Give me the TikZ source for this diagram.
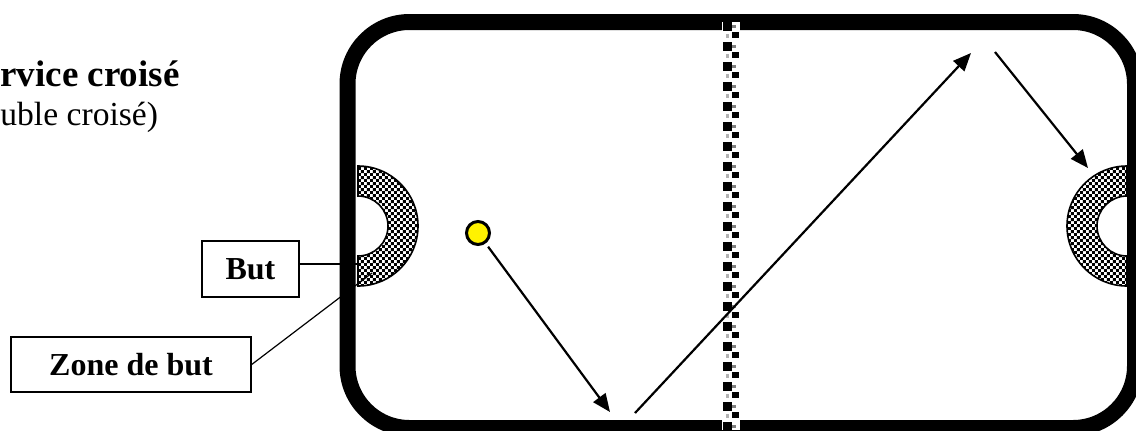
\documentclass[tikz,border=0pt]{standalone}
\usepackage{fontspec}
\setmainfont{Liberation Serif}
\usepackage{tikz}
\usetikzlibrary{arrows.meta, patterns, positioning}

% small black and white checks for the goal zones
\pgfdeclarepatternformonly{goalcheck}{\pgfpointorigin}{\pgfqpoint{3.2pt}{3.2pt}}{\pgfqpoint{3.2pt}{3.2pt}}{%
  \pgfpathrectangle{\pgfpointorigin}{\pgfqpoint{1.6pt}{1.6pt}}%
  \pgfpathrectangle{\pgfqpoint{1.6pt}{1.6pt}}{\pgfqpoint{1.6pt}{1.6pt}}%
  \pgfusepath{fill}}

\tikzset{
  labelbox/.style={draw, line width=0.7pt, fill=white, inner sep=0pt,
    font=\fontsize{16}{18}\selectfont\bfseries},
  shot/.style={line width=1.1pt, -{Triangle[length=9pt, width=7.5pt]}},
  goalzone/.style={draw, line width=0.8pt, pattern=goalcheck},
  ball/.style={circle, draw, fill=yellow, line width=1.5pt, minimum size=11.5pt, inner sep=0pt}
}

\begin{document}
\begin{tikzpicture}[x=0.5pt, y=-0.5pt]
    % picture frame, in pixels of the original
    \useasboundingbox (0,0) rectangle (1136,430);
    \clip (0,0) rectangle (1136,430);

    % Title (what is left of it at the left edge)
    \node[anchor=base west, inner sep=0pt, font=\fontsize{18.5}{20}\selectfont\bfseries] (title) at (0,86) {rvice croisé};
    \node[anchor=base west, inner sep=0pt, font=\fontsize{16.8}{20}\selectfont] (subtitle) at (0,125) {uble croisé)};

    % Rink
    \draw[line width=8pt, rounded corners=31pt] (347.5,22) rectangle (1135,428);

    % Net in the middle
    \fill[white] (722,22) rectangle (740,430);
    \foreach \y in {22,42,...,422} {
        \fill[black] (723,\y) rectangle (732,\y+9);
        \fill[black] (732,\y+10) rectangle (739,\y+16);
        \fill[gray] (732,\y+3) rectangle (736,\y+6);
        \fill[gray!60] (726,\y+12) rectangle (729,\y+16);
    }

    % Goal zones
    \def\rOut{60}
    \def\rIn{30}
    \draw[goalzone] (358,166) arc[start angle=-90, end angle=90, radius=\rOut]
        -- (358,256) arc[start angle=90, end angle=-90, radius=\rIn] -- cycle;
    \draw[goalzone] (1127,166) arc[start angle=270, end angle=90, radius=\rOut]
        -- (1127,256) arc[start angle=90, end angle=270, radius=\rIn] -- cycle;

    % Ball and its path
    \node[ball] (ball) at (478,233) {};
    \coordinate (b1) at (610,412);
    \coordinate (b2) at (635,413);
    \coordinate (b3) at (971,53);
    \coordinate (b4) at (995,52);
    \coordinate (b5) at (1088,168);
    \draw[shot, shorten <=2pt] (ball) -- (b1);
    \draw[shot] (b2) -- (b3);
    \draw[shot] (b4) -- (b5);

    % Labels
    \node[labelbox, minimum width=48.5pt, minimum height=28pt] (but) at (250.5,269) {But};
    \node[labelbox, minimum width=120pt, minimum height=27.5pt] (zone) at (131,364.5) {Zone de but};
    \coordinate (bp) at (358,264);
    \coordinate (zp) at (372,273);
    \draw[line width=0.6pt] (but.east |- bp) -- (bp);
    \draw[line width=0.6pt] (zone.east) -- (zp);
\end{tikzpicture}
\end{document}
